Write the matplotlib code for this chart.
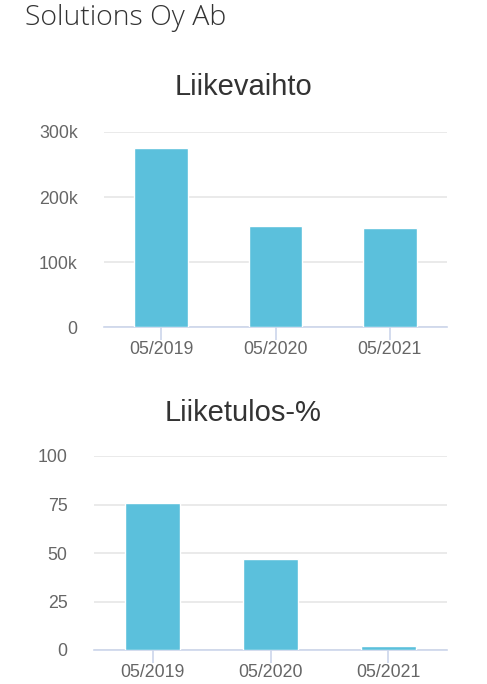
import matplotlib.pyplot as plt
from matplotlib.ticker import FuncFormatter

company = "Solutions Oy Ab"
periods = ["05/2019", "05/2020", "05/2021"]
liikevaihto = [275000, 155000, 153000]
liiketulos_pct = [76, 47, 2]

bar_color = "#5bc0dc"
grid_color = "#e6e6e6"
axis_color = "#ccd6eb"
label_color = "#666666"
text_color = "#333333"

plt.rcParams['font.family'] = ['Liberation Sans', 'DejaVu Sans']

fig = plt.figure(figsize=(4.87, 6.84), dpi=100)
fig.text(25/487, 1 - 18/684, company, fontsize=20.5, family='Open Sans',
         fontweight='light', color=text_color, ha='left', va='center')

def k_fmt(v, pos):
    if v == 0:
        return "0"
    return "%dk" % int(v / 1000)

def style(ax, ymax, yticks, fmt=None):
    ax.set_xlim(-0.5, len(periods) - 0.5)
    ax.set_ylim(0, ymax)
    ax.set_yticks(yticks)
    if fmt:
        ax.yaxis.set_major_formatter(FuncFormatter(fmt))
    ax.set_xticks(range(len(periods)))
    ax.set_xticklabels(periods)
    ax.grid(axis='y', color=grid_color, linewidth=1.2)
    ax.set_axisbelow(True)
    for s in ['top', 'right', 'left']:
        ax.spines[s].set_visible(False)
    ax.spines['bottom'].set_color(axis_color)
    ax.spines['bottom'].set_linewidth(1.2)
    ax.tick_params(axis='y', length=0, pad=19, labelsize=12.8, labelcolor=label_color)
    ax.tick_params(axis='x', length=9, width=1.2, color=axis_color, pad=1,
                   labelsize=12.8, labelcolor=label_color)

# Liikevaihto
ax1 = fig.add_axes([104/487, 1 - 327/684, 343/487, 195/684])
ax1.bar(range(len(periods)), liikevaihto, width=0.47, color=bar_color,
        edgecolor='white', linewidth=1, zorder=3)
style(ax1, 300000, [0, 100000, 200000, 300000], k_fmt)
fig.text(0.5, 1 - 87/684, "Liikevaihto", fontsize=21, color=text_color,
         ha='center', va='center')

# Liiketulos-%
ax2 = fig.add_axes([94/487, 1 - 650/684, 353/487, 194/684])
ax2.bar(range(len(periods)), liiketulos_pct, width=0.47, color=bar_color,
        edgecolor='white', linewidth=1, zorder=3)
style(ax2, 100, [0, 25, 50, 75, 100])
fig.text(0.5, 1 - 413/684, "Liiketulos-%", fontsize=21, color=text_color,
         ha='center', va='center')

fig.savefig("out.png", dpi=100)
